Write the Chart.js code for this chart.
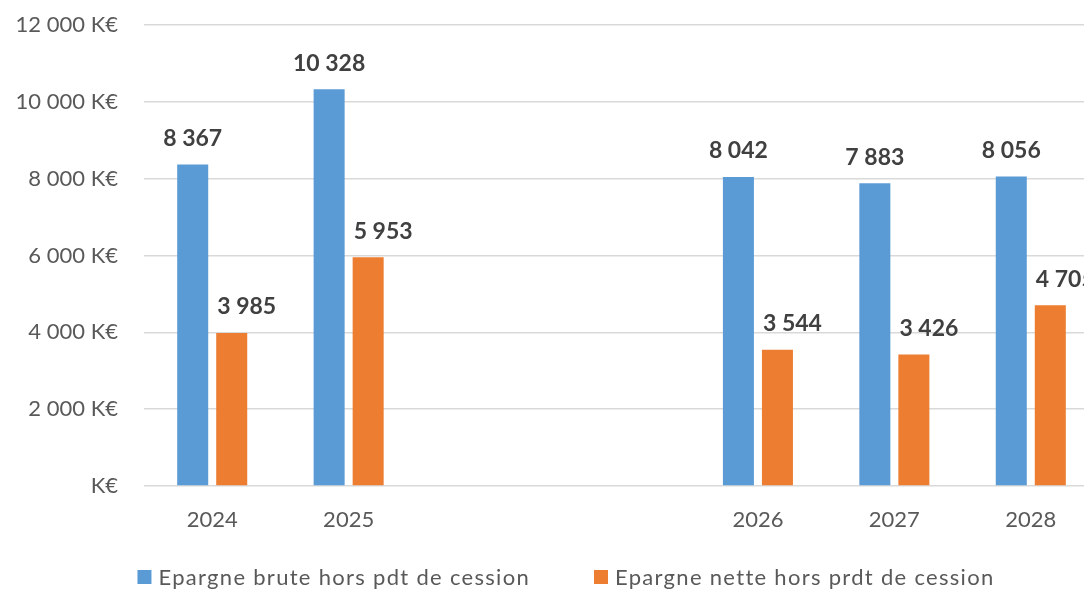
<!DOCTYPE html>
<html lang="fr">
<head>
<meta charset="utf-8">
<title>Epargne brute et nette</title>
<script src="https://cdn.jsdelivr.net/npm/chart.js@4.4.1/dist/chart.umd.min.js"></script>
<style>
    html, body { margin: 0; padding: 0; background: #fff; overflow: hidden; }
    #wrap { width: 1132px; height: 589px; }
</style>
</head>
<body>
<div id="wrap"><canvas id="epargne" width="1132" height="589"></canvas></div>
<script>
// Données (K€) - les deux catégories vides font l'écart entre 2025 et 2026
const annees = ['2024', '2025', '', '', '2026', '2027', '2028'];
const epargneBrute = [8367, 10328, null, null, 8042, 7883, 8056];
const epargneNette = [3985, 5953, null, null, 3544, 3426, 4705];
const ticksY = [0, 2000, 4000, 6000, 8000, 10000, 12000];

const BLEU = '#5B9BD5';
const ORANGE = '#ED7D31';
const POLICE = 'Lato, "Open Sans", sans-serif';

function formatNombre(v) {
    return String(v).replace(/\B(?=(\d{3})+(?!\d))/g, ' ');
}

// étiquettes de valeur au-dessus des barres
const etiquettesPlugin = {
    id: 'etiquettes',
    afterDatasetsDraw(chart) {
        const ctx = chart.ctx;
        ctx.save();
        ctx.font = 'bold 23px ' + POLICE;
        ctx.fillStyle = '#404040';
        ctx.textAlign = 'center';
        ctx.textBaseline = 'middle';
        chart.data.datasets.forEach((ds, i) => {
            const decalage = i === 0 ? 0 : 15;
            chart.getDatasetMeta(i).data.forEach((bar, j) => {
                const v = ds.data[j];
                if (v === null) return;
                ctx.fillText(formatNombre(v), bar.x + decalage, bar.y - 26);
            });
        });
        ctx.restore();
    }
};

// légende dessinée à la main pour garder l'espacement d'origine
const legendePlugin = {
    id: 'legende',
    afterDraw(chart) {
        const ctx = chart.ctx;
        ctx.save();
        ctx.font = '22px ' + POLICE;
        ctx.letterSpacing = '1.3px';
        ctx.textBaseline = 'middle';
        const boite = 14, ecart = 7, entre = 64;
        const items = chart.data.datasets.map(ds => ({
            texte: ds.label,
            couleur: ds.backgroundColor,
            largeur: ctx.measureText(ds.label).width
        }));
        let total = 0;
        items.forEach((it, i) => { total += boite + ecart + it.largeur + (i > 0 ? entre : 0); });
        let x = chart.width / 2 - total / 2;
        const y = 577;
        items.forEach(it => {
            ctx.fillStyle = it.couleur;
            ctx.fillRect(x, y - boite / 2, boite, boite);
            ctx.fillStyle = '#595959';
            ctx.fillText(it.texte, x + boite + ecart, y + 1);
            x += boite + ecart + it.largeur + entre;
        });
        ctx.restore();
    }
};

const ctxEpargne = document.getElementById('epargne').getContext('2d');
new Chart(ctxEpargne, {
    type: 'bar',
    data: {
        labels: annees,
        datasets: [{
            label: 'Epargne brute hors pdt de cession',
            data: epargneBrute,
            backgroundColor: BLEU
        }, {
            label: 'Epargne nette hors prdt de cession',
            data: epargneNette,
            backgroundColor: ORANGE
        }]
    },
    options: {
        responsive: false,
        animation: false,
        categoryPercentage: 0.572,
        barPercentage: 0.795,
        layout: {
            padding: { left: 0, right: 33, top: 25, bottom: 0 }
        },
        plugins: {
            legend: { display: false },
            tooltip: { enabled: false }
        },
        scales: {
            x: {
                grid: { display: false, drawTicks: false },
                border: { display: false },
                ticks: {
                    color: '#595959',
                    font: { family: POLICE, size: 22 },
                    padding: 21,
                    maxRotation: 0,
                    autoSkip: false
                },
                afterFit(scale) { scale.height = 103; }
            },
            y: {
                min: 0,
                max: 12000,
                afterBuildTicks(scale) {
                    scale.ticks = ticksY.map(v => ({ value: v }));
                },
                grid: { color: '#D9D9D9', lineWidth: 1.5, drawTicks: false },
                border: { display: false },
                ticks: {
                    color: '#595959',
                    font: { family: POLICE, size: 22 },
                    padding: 26,
                    callback: v => v === 0 ? 'K€' : formatNombre(v) + ' K€'
                },
                afterFit(scale) {
                    scale.width = 144;
                    scale.paddingTop = 0;
                    scale.paddingBottom = 0;
                }
            }
        }
    },
    plugins: [etiquettesPlugin, legendePlugin]
});
</script>
</body>
</html>
